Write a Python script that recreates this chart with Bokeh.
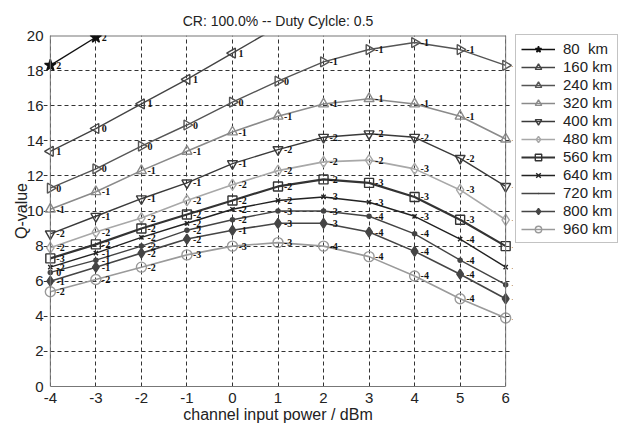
import math
from bokeh.plotting import figure
from bokeh.models import (Legend, LegendItem, ColumnDataSource, Range1d, FixedTicker,
                          LabelSet, Span)
from bokeh.embed import file_html
from bokeh.resources import INLINE

power = [-4, -3, -2, -1, 0, 1, 2, 3, 4, 5, 6]

names = ["80  km", "160 km", "240 km", "320 km", "400 km", "480 km",
         "560 km", "640 km", "720 km", "800 km", "960 km"]

q_80 = [18.3, 19.9]
lbl_80 = ["2", "2"]
q_160 = [13.4, 14.7, 16.1, 17.5, 19.0, 20.5]
lbl_160 = ["1", "0", "1", "1", "1", ""]
q_240 = [11.3, 12.4, 13.7, 14.9, 16.2, 17.4, 18.5, 19.2, 19.6, 19.2, 18.3]
lbl_240 = ["0", "0", "0", "0", "0", "0", "-1", "-1", "-1", "-1", "-1"]
q_320 = [10.1, 11.1, 12.3, 13.4, 14.5, 15.4, 16.1, 16.4, 16.1, 15.4, 14.1]
lbl_320 = ["-1", "-1", "-1", "-1", "-1", "-1", "-1", "-1", "-1", "-1", "-2"]
q_400 = [8.7, 9.7, 10.7, 11.6, 12.7, 13.5, 14.2, 14.4, 14.2, 13.0, 11.4]
lbl_400 = ["-2", "-1", "-1", "-1", "-1", "-2", "-2", "-2", "-2", "-2", "-3"]
q_480 = [7.9, 8.8, 9.6, 10.6, 11.5, 12.3, 12.8, 12.9, 12.4, 11.2, 9.5]
lbl_480 = ["-2", "-2", "-2", "-2", "-2", "-2", "-2", "-2", "-3", "-3", "-4"]
q_560 = [7.3, 8.1, 9.0, 9.8, 10.6, 11.4, 11.8, 11.6, 10.8, 9.5, 8.0]
lbl_560 = ["-3", "-2", "-2", "-2", "-2", "-2", "-2", "-3", "-3", "-3", "-4"]
q_640 = [6.8, 7.6, 8.5, 9.3, 10.1, 10.6, 10.8, 10.5, 9.7, 8.4, 6.8]
lbl_640 = ["-2", "-1", "-2", "-2", "-2", "-2", "-3", "-3", "-3", "-4", "-4"]
q_720 = [6.5, 7.2, 8.0, 8.9, 9.5, 10.0, 10.0, 9.7, 8.7, 7.2, 5.8]
lbl_720 = ["0", "-1", "-2", "-2", "-2", "-3", "-3", "-4", "-4", "-4", "-4"]
q_800 = [6.0, 6.8, 7.6, 8.4, 8.9, 9.3, 9.3, 8.8, 7.7, 6.4, 5.0]
lbl_800 = ["-1", "-1", "-2", "-2", "-1", "-3", "-3", "-4", "-4", "-4", "-5"]
q_960 = [5.4, 6.1, 6.8, 7.5, 8.0, 8.2, 8.0, 7.4, 6.3, 5.0, 3.9]
lbl_960 = ["-2", "-2", "-2", "-3", "-3", "-3", "-4", "-4", "-4", "-4", "-6"]

values = [q_80, q_160, q_240, q_320, q_400, q_480, q_560, q_640, q_720, q_800, q_960]
labels = [lbl_80, lbl_160, lbl_240, lbl_320, lbl_400, lbl_480, lbl_560, lbl_640, lbl_720, lbl_800, lbl_960]

x_ticks = list(range(-4, 7))
y_ticks = list(range(0, 21, 2))

# style: color, marker, angle, hollow, size, line width
styles = [
    ("#111111", "star", 0.0, False, 12, 1.4),
    ("#444444", "triangle", math.pi / 2, True, 10, 1.4),
    ("#555555", "triangle", -math.pi / 2, True, 10, 1.4),
    ("#8a8a8a", "triangle", 0.0, True, 10, 1.6),
    ("#3a3a3a", "inverted_triangle", 0.0, True, 10, 1.4),
    ("#a8a8a8", "diamond", 0.0, True, 11, 1.6),
    ("#333333", "square", 0.0, True, 9, 2.2),
    ("#222222", "x", 0.0, False, 6, 1.4),
    ("#444444", "dot", 0.0, False, 22, 1.4),
    ("#454545", "diamond", 0.0, False, 10, 1.6),
    ("#9a9a9a", "circle", 0.0, True, 10, 1.6),
]

FONT = "Liberation Sans"
AX = "#777777"
pad = 0.15  # room so edge markers are not cut by the frame

p = figure(frame_width=469, frame_height=351, output_backend="svg", toolbar_location=None,
           x_range=Range1d(x_ticks[0] - pad, x_ticks[-1] + pad),
           y_range=Range1d(y_ticks[0], y_ticks[-1]),
           min_border_left=43, min_border_right=111, min_border_top=35,
           min_border_bottom=42)

p.title.text = "CR: 100.0% -- Duty Cylcle: 0.5"
p.title.align = "center"
p.title.text_font = FONT
p.title.text_font_size = "14px"
p.title.text_font_style = "normal"
p.title.text_color = "#222222"
p.title.standoff = 14

p.background_fill_color = "white"
p.border_fill_color = "white"
p.outline_line_color = None

for ax in (p.xaxis[0], p.yaxis[0]):
    ax.major_tick_line_color = None
    ax.minor_tick_line_color = None
    ax.major_tick_out = 0
    ax.major_tick_in = 0
    ax.minor_tick_out = 0
    ax.minor_tick_in = 0
    ax.major_label_text_font = FONT
    ax.major_label_text_font_size = "15px"
    ax.major_label_text_color = "#222222"
    ax.axis_label_text_font = FONT
    ax.axis_label_text_font_size = "16px"
    ax.axis_label_text_font_style = "normal"
    ax.axis_label_text_color = "#222222"

p.xaxis.ticker = FixedTicker(ticks=x_ticks)
p.yaxis.ticker = FixedTicker(ticks=y_ticks)
p.xaxis.major_label_overrides = {t: str(t) for t in x_ticks}
p.xaxis.bounds = (x_ticks[0], x_ticks[-1])
p.xaxis.axis_line_color = AX
p.yaxis.axis_line_color = None
p.xaxis.axis_label = "channel input power / dBm"
p.yaxis.axis_label = "Q-value"
p.xaxis.major_label_standoff = 6
p.xaxis.axis_label_standoff = 0
p.yaxis.major_label_standoff = 0
p.yaxis.axis_label_standoff = -6

p.xgrid.bounds = (y_ticks[0], y_ticks[-1])
p.ygrid.bounds = (x_ticks[0], x_ticks[-1])
p.grid.grid_line_color = "#333333"
p.grid.grid_line_dash = "4 3"
p.grid.grid_line_width = 1

# frame box at the data limits
p.add_layout(Span(location=x_ticks[0], dimension="height", line_color=AX, line_width=1))
p.add_layout(Span(location=x_ticks[-1], dimension="height", line_color=AX, line_width=1))
p.segment(x0=[x_ticks[0]], y0=[y_ticks[-1]], x1=[x_ticks[-1]], y1=[y_ticks[-1]],
          line_color=AX, line_width=2)

items = []
for name, vals, lbls, st in zip(names, values, labels, styles):
    color, marker, angle, hollow, size, lw = st
    xs = power[:len(vals)]
    src = ColumnDataSource(dict(x=xs, y=vals, t=lbls))
    ln = p.line("x", "y", source=src, line_color=color, line_width=lw)
    sc = p.scatter("x", "y", source=src, marker=marker, angle=angle, size=size,
                   line_color=color, line_width=1.4,
                   fill_color=color, fill_alpha=0.0 if hollow else 1.0)
    p.add_layout(LabelSet(x="x", y="y", text="t", source=src, x_offset=6,
                          text_font=FONT, text_font_size="10px", text_font_style="bold",
                          text_color="#111111", text_baseline="middle", text_align="left"))
    items.append(LegendItem(label=name, renderers=[ln, sc]))

legend = Legend(items=items, location=(3, 143))
legend.label_text_font = FONT
legend.label_text_font_size = "15px"
legend.label_text_color = "#222222"
legend.glyph_width = 34
legend.glyph_height = 16
legend.label_height = 16
legend.label_standoff = 8
legend.spacing = 1
legend.padding = 5
legend.margin = 0
legend.border_line_color = "#888888"
legend.border_line_width = 1
legend.background_fill_color = "white"
p.add_layout(legend, "right")

open("out.html", "w").write(file_html(p, INLINE))
